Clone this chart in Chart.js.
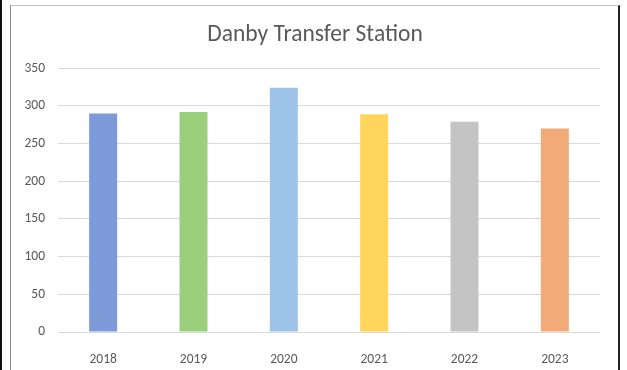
<!DOCTYPE html>
<html>
<head>
<meta charset="utf-8">
<title>Danby Transfer Station</title>
<script src="https://cdn.jsdelivr.net/npm/chart.js@4/dist/chart.umd.min.js"></script>
<style>
  html, body { margin: 0; padding: 0; background: #fff; }
  .wrap { position: relative; width: 627px; height: 370px; overflow: hidden; }
  .edge-left { position: absolute; left: 0; top: 0; width: 2px; height: 370px; background: #111; }
  .frame { position: absolute; left: 10px; top: 5px; width: 607px; height: 380px;
           border-top: 1px solid #bfbfbf; border-left: 1px solid #8c8c8c; border-right: 2px solid #222; }
  canvas { position: absolute; left: 0; top: 0; }
</style>
</head>
<body>
<div class="wrap">
  <canvas id="chart" width="627" height="370"></canvas>
  <div class="edge-left"></div>
  <div class="frame"></div>
</div>
<script>
const years = ['2018', '2019', '2020', '2021', '2022', '2023'];
const counts = [290, 292, 324, 289, 279, 270];
const barColors = ['#7d9bd9', '#9ccf7c', '#9dc3e8', '#ffd55c', '#c4c4c4', '#f2ab78'];
const yTicks = [0, 50, 100, 150, 200, 250, 300, 350];

const textGray = '#595959';
const font = "Calibri, Carlito, 'Open Sans', sans-serif";

// centre the title over the framed box rather than the whole canvas
const shiftTitle = {
  id: 'shiftTitle',
  afterLayout(chart) {
    const t = chart.titleBlock;
    if (t) { t.left += 15; t.right += 15; }
  }
};

const ctx = document.getElementById('chart').getContext('2d');
const chart = new Chart(ctx, {
  type: 'bar',
  data: {
    labels: years,
    datasets: [{
      data: counts,
      backgroundColor: barColors,
      borderWidth: 0,
      barPercentage: 0.31,
      categoryPercentage: 1
    }]
  },
  options: {
    responsive: false,
    animation: false,
    layout: { padding: { top: 0, right: 27, bottom: 0, left: 0 } },
    plugins: {
      legend: { display: false },
      tooltip: { enabled: false },
      title: {
        display: true,
        text: 'Danby Transfer Station',
        color: textGray,
        font: { family: font, size: 23.5, weight: 'normal' },
        padding: { top: 21, bottom: 19 }
      }
    },
    scales: {
      x: {
        grid: { display: false },
        border: { display: false },
        ticks: { color: textGray, font: { family: font, size: 13.5 }, padding: 12 },
        afterFit: function(scale) { scale.height = 38; }
      },
      y: {
        min: 0,
        max: 350,
        afterBuildTicks: function(scale) {
          scale.ticks = yTicks.map(v => ({ value: v }));
        },
        grid: { color: '#d9d9d9', lineWidth: 1, drawTicks: false },
        border: { display: false },
        ticks: { color: textGray, font: { family: font, size: 13.5 }, padding: 13 },
        afterFit: function(scale) { scale.width = 58; }
      }
    }
  },
  plugins: [shiftTitle]
});
</script>
</body>
</html>
